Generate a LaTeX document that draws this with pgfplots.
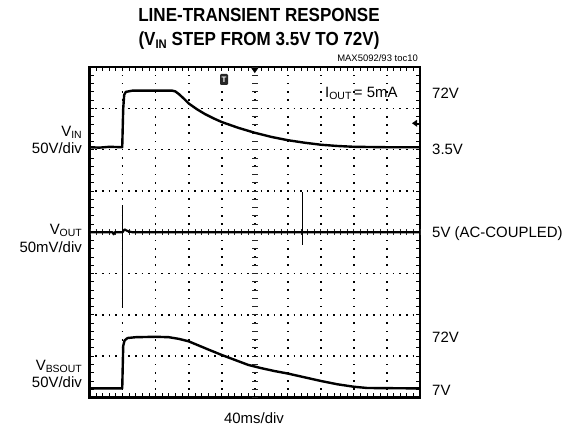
\documentclass[border=0pt]{standalone}
\usepackage{fontspec}
\setmainfont{Liberation Sans}
\usepackage{pgfplots}
\pgfplotsset{compat=1.18}
\newcommand\sub[1]{\raisebox{-0.35ex}{\fontsize{10.5}{10.5}\selectfont #1}}
\newcommand\bsub[1]{\raisebox{-0.3ex}{\fontsize{12.5}{12.5}\selectfont\bfseries #1}}
\tikzset{
  vrow/.style={black, line width=1.7bp, dash pattern=on 1.7bp off 31.35bp, dash phase=0.85bp},
  hdots/.style={black, line width=1.6bp, dash pattern=on 1.6bp off 5.01bp, dash phase=0.8bp},
}
\begin{document}
\begin{tikzpicture}[x=1bp,y=1bp]
\path[use as bounding box] (0,0) rectangle (576,438);
\begin{axis}[
  at={(89.5bp,40.5bp)}, anchor=south west,
  scale only axis, width=330.5bp, height=330.4bp,
  xmin=0,xmax=10,ymin=0,ymax=8,
  xtick={0,...,10}, ytick={0,...,8},
  xticklabels={}, yticklabels={},
  minor x tick num=4, minor y tick num=4,
  tick align=inside,
  major tick length=4bp, minor tick length=4bp,
  tick style={black, line width=0.9bp},
  axis line style={line width=2.4bp},
  clip=false,
]
% graticule dots of the vertical lines (rows of dots at every integer x)
\draw[vrow]
 (axis cs:0,0.2) -- (axis cs:10,0.2) (axis cs:0,0.4) -- (axis cs:10,0.4) (axis cs:0,0.6) -- (axis cs:10,0.6) (axis cs:0,0.8) -- (axis cs:10,0.8)
 (axis cs:0,1.2) -- (axis cs:10,1.2) (axis cs:0,1.4) -- (axis cs:10,1.4) (axis cs:0,1.6) -- (axis cs:10,1.6) (axis cs:0,1.8) -- (axis cs:10,1.8)
 (axis cs:0,2.2) -- (axis cs:10,2.2) (axis cs:0,2.4) -- (axis cs:10,2.4) (axis cs:0,2.6) -- (axis cs:10,2.6) (axis cs:0,2.8) -- (axis cs:10,2.8)
 (axis cs:0,3.2) -- (axis cs:10,3.2) (axis cs:0,3.4) -- (axis cs:10,3.4) (axis cs:0,3.6) -- (axis cs:10,3.6) (axis cs:0,3.8) -- (axis cs:10,3.8)
 (axis cs:0,4.2) -- (axis cs:10,4.2) (axis cs:0,4.4) -- (axis cs:10,4.4) (axis cs:0,4.6) -- (axis cs:10,4.6) (axis cs:0,4.8) -- (axis cs:10,4.8)
 (axis cs:0,5.2) -- (axis cs:10,5.2) (axis cs:0,5.4) -- (axis cs:10,5.4) (axis cs:0,5.6) -- (axis cs:10,5.6) (axis cs:0,5.8) -- (axis cs:10,5.8)
 (axis cs:0,6.2) -- (axis cs:10,6.2) (axis cs:0,6.4) -- (axis cs:10,6.4) (axis cs:0,6.6) -- (axis cs:10,6.6) (axis cs:0,6.8) -- (axis cs:10,6.8)
 (axis cs:0,7.2) -- (axis cs:10,7.2) (axis cs:0,7.4) -- (axis cs:10,7.4) (axis cs:0,7.6) -- (axis cs:10,7.6) (axis cs:0,7.8) -- (axis cs:10,7.8);
% graticule dots of the horizontal lines
\draw[hdots] (axis cs:0,1) -- (axis cs:10,1);
\draw[hdots] (axis cs:0,2) -- (axis cs:10,2);
\draw[hdots] (axis cs:0,3) -- (axis cs:10,3);
\draw[hdots] (axis cs:0,4) -- (axis cs:10,4);
\draw[hdots] (axis cs:0,5) -- (axis cs:10,5);
\draw[hdots] (axis cs:0,6) -- (axis cs:10,6);
\draw[hdots] (axis cs:0,7) -- (axis cs:10,7);
% center cross ticks
\draw[black!85, line width=6bp, dash pattern=on 0.9bp off 7.36bp, dash phase=0.45bp] (axis cs:5,0) -- (axis cs:5,8);
\draw[black!85, line width=6bp, dash pattern=on 0.9bp off 5.71bp, dash phase=0.45bp] (axis cs:0,4) -- (axis cs:10,4);
% VIN
\addplot[black, line width=2.4bp, line join=round] coordinates {
(0,6.06)(0.3,6.05)(0.6,6.07)(0.99,6.06)(1.02,7.0)(1.05,7.33)(1.1,7.40)(1.3,7.43)(2.0,7.43)(2.5,7.43)(2.6,7.41)(2.7,7.35)(2.85,7.24)(3.0,7.12)(3.25,6.98)(3.5,6.86)(3.75,6.76)(4.0,6.67)(4.5,6.53)(5.0,6.41)(5.5,6.31)(6.0,6.23)(6.5,6.17)(7.0,6.12)(7.5,6.09)(8.0,6.07)(9.0,6.06)(10,6.06)};
% VOUT
\addplot[black, line width=2.1bp, line join=round] coordinates {
(0,4.0)(0.7,4.0)(0.73,3.95)(0.76,4.0)(1.0,4.0)(1.06,4.07)(1.15,4.03)(1.3,4.0)(10,4.0)};
\addplot[black, line width=0.8bp] coordinates {(1.0,4.66)(1.0,2.17)};
\addplot[black, line width=0.8bp] coordinates {(6.44,4.98)(6.44,3.69)};
% VBSOUT
\addplot[black, line width=2.4bp, line join=round] coordinates {
(0,0.22)(0.99,0.22)(1.02,1.25)(1.06,1.38)(1.15,1.44)(1.4,1.46)(2.0,1.47)(2.4,1.46)(2.7,1.42)(3.0,1.36)(3.3,1.26)(3.6,1.16)(4.0,1.03)(4.4,0.91)(4.8,0.79)(5.2,0.71)(5.6,0.64)(6.0,0.58)(6.5,0.49)(7.0,0.40)(7.5,0.32)(8.0,0.26)(8.4,0.23)(10,0.22)};
% markers
\node[fill=black!85, rounded corners=1.2bp, minimum width=8bp, minimum height=11bp, inner sep=0pt, text=white, font=\fontsize{8}{8}\selectfont\bfseries] at (axis cs:4.07,7.7) {T};
\fill (axis cs:5,8) ++(-3.5bp,-1bp) -- ++(7bp,0) -- ++(-3.5bp,-5bp) -- cycle;
\fill (axis cs:10,6.64) ++(-3bp,3.5bp) -- ++(0,-7bp) -- ++(-5bp,3.5bp) -- cycle;
\draw[line width=1bp] (axis cs:10,6.64) -- ++(-4bp,0);
\end{axis}
\begin{scope}[every node/.style={inner sep=0pt, font=\fontsize{15}{16}\selectfont}]
\node[anchor=base east] at (82,301.8) {V\sub{IN}};
\node[anchor=base east] at (82,284.8) {50V/div};
\node[anchor=base east] at (82,203.8) {V\sub{OUT}};
\node[anchor=base east] at (82,185.8) {50mV/div};
\node[anchor=base east] at (82,67.8) {V\sub{BSOUT}};
\node[anchor=base east] at (82,50.8) {50V/div};
\node[anchor=base west] at (432,339.8) {72V};
\node[anchor=base west] at (432,283.8) {3.5V};
\node[anchor=base west] at (432,200.8) {5V (AC-COUPLED)};
\node[anchor=base west] at (432,95.8) {72V};
\node[anchor=base west] at (432,42.8) {7V};
\node[anchor=base west] at (325,340.8) {I\sub{OUT}\,= 5mA};
\node[anchor=base] at (254,14.8) {40ms/div};
\node[anchor=base east, font=\fontsize{9.5}{10}\selectfont] at (418,376.5) {MAX5092/93 toc10};
\node[anchor=base, font=\fontsize{19}{20}\selectfont\bfseries] at (259,416.5) {\scalebox{0.9}[1]{LINE-TRANSIENT RESPONSE}};
\node[anchor=base, font=\fontsize{19}{20}\selectfont\bfseries] at (259,392.5) {\scalebox{0.9}[1]{(V\bsub{IN} STEP FROM 3.5V TO 72V)}};
\end{scope}
\end{tikzpicture}
\end{document}
